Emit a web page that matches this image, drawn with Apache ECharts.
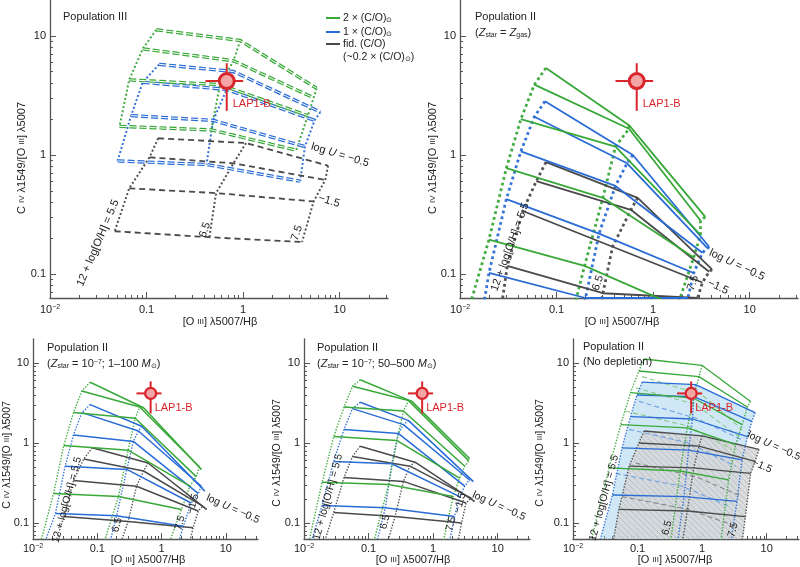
<!DOCTYPE html>
<html lang="en">
<head>
<meta charset="UTF-8">
<title>C IV / [O III] photoionisation grids</title>
<script src="https://cdn.jsdelivr.net/npm/echarts@6/dist/echarts.min.js"></script>
<style>
  html, body { margin: 0; padding: 0; background: #fff; }
  #main { width: 800px; height: 567px; }
</style>
</head>
<body>
<div id="main"></div>
<script>
// every value below is log10 of the line ratio
// x = [O III] 5007/Hb, y = C IV 1549/[O III] 5007
var xTicks = [-2, -1, 0, 1];
var yTicks = [-1, 0, 1];
var tickText = { '-2': '{n|10}{e|−2}', '-1': '0.1', '0': '1', '1': '10' };
var minorMult = [2, 3, 4, 5, 6, 7, 8, 9];
var decades = [-2, -1, 0, 1];

var lap1b = [-0.17, 0.62];
var lap1bXErr = [-0.39, 0.0];
var lap1bYErr = [0.37, 0.77];

// each row = one log U value, points at 12+log(O/H) = 5.5, 6.5, 7.5
// Population III
var p1Green = [
  [[-0.90, 1.05], [-0.03, 0.96], [0.76, 0.56]],
  [[-1.04, 0.89], [-0.10, 0.79], [0.73, 0.48]],
  [[-1.18, 0.63], [-0.24, 0.59], [0.67, 0.33]],
  [[-1.28, 0.24], [-0.33, 0.21], [0.55, 0.04]]
];
var p1Blue = [
  [[-0.87, 0.76], [-0.10, 0.70], [0.80, 0.36]],
  [[-1.04, 0.61], [-0.17, 0.55], [0.74, 0.29]],
  [[-1.16, 0.33], [-0.31, 0.29], [0.64, 0.07]],
  [[-1.30, -0.05], [-0.38, -0.08], [0.59, -0.22]]
];
var p1Black = [
  [[-0.88, 0.14], [0.03, 0.10], [0.88, -0.09]],
  [[-0.97, -0.02], [-0.10, -0.07], [0.85, -0.21]],
  [[-1.18, -0.28], [-0.28, -0.32], [0.73, -0.39]],
  [[-1.33, -0.64], [-0.35, -0.69], [0.61, -0.73]]
];

// Population II, Zstar = Zgas
var p2Green = [
  [[-1.11, 0.73], [-0.25, 0.25], [0.54, -0.52]],
  [[-1.23, 0.59], [-0.25, 0.22], [0.49, -0.55]],
  [[-1.37, 0.30], [-0.39, 0.07], [0.49, -0.67]],
  [[-1.52, -0.11], [-0.52, -0.36], [0.42, -0.86]],
  [[-1.70, -0.71], [-0.71, -0.93], [0.25, -1.27]],
  [[-1.94, -1.38], [-0.85, -1.38], [0.13, -1.46]]
];
var p2Blue = [
  [[-1.12, 0.45], [-0.21, 0.00], [0.58, -0.77]],
  [[-1.23, 0.32], [-0.27, -0.07], [0.56, -0.78]],
  [[-1.37, 0.03], [-0.39, -0.26], [0.51, -0.82]],
  [[-1.52, -0.37], [-0.56, -0.66], [0.42, -0.99]],
  [[-1.70, -0.99], [-0.70, -1.20], [0.36, -1.20]],
  [[-1.78, -1.38], [-0.75, -1.38], [0.30, -1.38]]
];
var p2Black = [
  [[-1.11, -0.06], [-0.16, -0.36], [0.61, -0.96]],
  [[-1.21, -0.22], [-0.23, -0.46], [0.58, -0.98]],
  [[-1.35, -0.47], [-0.42, -0.77], [0.51, -1.07]],
  [[-1.51, -0.93], [-0.52, -1.16], [0.46, -1.20]],
  [[-1.59, -1.38], [-0.59, -1.38], [0.42, -1.38]]
];

// Population II, Zstar = 1e-7, 1-100 Msun
var p3Green = [
  [[-1.11, 0.76], [-0.28, 0.44], [0.62, -0.33]],
  [[-1.24, 0.65], [-0.34, 0.45], [0.59, -0.30]],
  [[-1.37, 0.38], [-0.41, 0.31], [0.54, -0.42]],
  [[-1.52, -0.03], [-0.52, -0.09], [0.44, -0.54]],
  [[-1.68, -0.63], [-0.67, -0.67], [0.31, -0.83]],
  [[-1.91, -1.33], [-0.93, -1.33], [0.08, -1.33]]
];
var p3Blue = [
  [[-1.11, 0.48], [-0.31, 0.21], [0.67, -0.60]],
  [[-1.24, 0.38], [-0.36, 0.15], [0.62, -0.54]],
  [[-1.37, 0.10], [-0.44, 0.02], [0.57, -0.63]],
  [[-1.50, -0.29], [-0.54, -0.33], [0.46, -0.75]],
  [[-1.65, -0.88], [-0.70, -0.91], [0.34, -1.04]],
  [[-1.86, -1.33], [-0.83, -1.33], [0.23, -1.33]]
];
var p3Black = [
  [[-1.08, -0.06], [-0.21, -0.25], [0.70, -0.83]],
  [[-1.21, -0.20], [-0.28, -0.35], [0.64, -0.79]],
  [[-1.37, -0.47], [-0.39, -0.54], [0.57, -0.85]],
  [[-1.52, -0.92], [-0.52, -0.98], [0.49, -1.06]],
  [[-1.68, -1.33], [-0.67, -1.33], [0.41, -1.33]]
];

// Population II, Zstar = 1e-7, 50-500 Msun
var p4Green = [
  [[-1.13, 0.79], [-0.33, 0.52], [0.56, -0.19]],
  [[-1.25, 0.71], [-0.38, 0.53], [0.55, -0.22]],
  [[-1.38, 0.45], [-0.46, 0.40], [0.49, -0.29]],
  [[-1.54, 0.08], [-0.56, 0.03], [0.41, -0.44]],
  [[-1.72, -0.49], [-0.69, -0.52], [0.31, -0.67]],
  [[-1.95, -1.33], [-0.95, -1.33], [0.13, -1.33]]
];
var p4Blue = [
  [[-1.13, 0.51], [-0.38, 0.28], [0.62, -0.48]],
  [[-1.25, 0.43], [-0.46, 0.23], [0.56, -0.46]],
  [[-1.38, 0.17], [-0.54, 0.12], [0.49, -0.54]],
  [[-1.54, -0.23], [-0.64, -0.26], [0.41, -0.67]],
  [[-1.72, -0.78], [-0.74, -0.81], [0.33, -0.92]],
  [[-1.92, -1.33], [-0.90, -1.33], [0.23, -1.33]]
];
var p4Black = [
  [[-1.13, -0.04], [-0.28, -0.24], [0.64, -0.73]],
  [[-1.25, -0.17], [-0.36, -0.29], [0.59, -0.69]],
  [[-1.38, -0.43], [-0.46, -0.48], [0.51, -0.75]],
  [[-1.54, -0.87], [-0.59, -0.92], [0.44, -1.00]],
  [[-1.72, -1.33], [-0.74, -1.33], [0.36, -1.33]]
];

// Population II, no depletion
var p5Green = [
  [[-0.90, 1.05], [0.00, 0.97], [0.75, 0.52]],
  [[-0.98, 0.90], [-0.05, 0.83], [0.70, 0.45]],
  [[-1.11, 0.63], [-0.13, 0.56], [0.62, 0.23]],
  [[-1.26, 0.23], [-0.23, 0.19], [0.52, -0.02]],
  [[-1.44, -0.31], [-0.34, -0.35], [0.41, -0.46]],
  [[-1.78, -1.42], [-0.52, -1.42], [0.26, -1.42]]
];
var p5Blue = [
  [[-0.93, 0.76], [-0.10, 0.73], [0.82, 0.38]],
  [[-1.01, 0.60], [-0.13, 0.58], [0.77, 0.27]],
  [[-1.11, 0.33], [-0.15, 0.30], [0.70, 0.08]],
  [[-1.24, -0.06], [-0.21, -0.09], [0.62, -0.21]],
  [[-1.39, -0.65], [-0.28, -0.67], [0.54, -0.73]],
  [[-1.65, -1.42], [-0.41, -1.42], [0.41, -1.42]]
];
var p5Black = [
  [[-0.90, 0.15], [0.00, 0.09], [0.88, -0.08]],
  [[-0.98, 0.00], [-0.05, -0.04], [0.82, -0.23]],
  [[-1.13, -0.29], [-0.13, -0.31], [0.75, -0.38]],
  [[-1.29, -0.83], [-0.23, -0.85], [0.67, -0.92]],
  [[-1.42, -1.42], [-0.34, -1.42], [0.59, -1.42]]
];
// lighter dashed tracks in the no-depletion panel
var p5GreenDash = [
  [[-0.93, 0.83], [0.00, 0.60], [0.62, 0.17]],
  [[-1.03, 0.69], [-0.10, 0.48], [0.57, 0.08]],
  [[-1.19, 0.40], [-0.21, 0.21], [0.46, -0.08]]
];
var p5BlueDash = [
  [[-0.98, 0.52], [-0.10, 0.31], [0.62, 0.04]],
  [[-1.13, 0.17], [-0.21, 0.00], [0.52, -0.29]],
  [[-1.34, -0.38], [-0.31, -0.54], [0.41, -0.79]]
];
var p5BlackDash = [
  [[-1.03, -0.25], [-0.10, -0.42], [0.62, -0.67]],
  [[-1.24, -0.67], [-0.21, -0.83], [0.52, -1.04]]
];

var GREEN = '#38a838', BLUE = '#2a6cd6', BLACK = '#4a4a4a', RED = '#d8262c';
var FONT = '"Liberation Sans", Arial, Helvetica, sans-serif';
var AXIS = '#555';

var panels = [
  { grid: { left: 50, top: 0, width: 338, height: 298 }, big: true, style: 'popIII',
    sets: [[p1Black, BLACK], [p1Blue, BLUE], [p1Green, GREEN]] },
  { grid: { left: 460, top: 0, width: 338, height: 298 }, big: true, style: 'thick',
    sets: [[p2Black, BLACK], [p2Blue, BLUE], [p2Green, GREEN]] },
  { grid: { left: 33, top: 339, width: 225, height: 200 }, style: 'thin',
    sets: [[p3Black, BLACK], [p3Blue, BLUE], [p3Green, GREEN]] },
  { grid: { left: 304, top: 339, width: 226, height: 200 }, style: 'thin',
    sets: [[p4Black, BLACK], [p4Blue, BLUE], [p4Green, GREEN]] },
  { grid: { left: 573, top: 339, width: 226, height: 200 }, style: 'fill',
    sets: [[p5Black, BLACK], [p5Blue, BLUE], [p5Green, GREEN]],
    dashed: [[p5BlackDash, '#8a8a8a'], [p5BlueDash, '#6fa0e6'], [p5GreenDash, '#86c886']] }
];

function minorList(lo, hi) {
  var out = [];
  decades.forEach(function (d) {
    minorMult.forEach(function (m) {
      var v = d + Math.log10(m);
      if (v > lo && v < hi) out.push(v);
    });
  });
  return out;
}
var xMinor = minorList(-2, 1.5);
var yMinor = minorList(-1.2, 1.3);

// hatch pattern for the grey (fiducial C/O) region
var hatch = document.createElement('canvas');
hatch.width = 6; hatch.height = 6;
(function () {
  var c = hatch.getContext('2d');
  c.fillStyle = 'rgba(212, 214, 215, 0.85)';
  c.fillRect(0, 0, 6, 6);
  c.strokeStyle = 'rgba(140, 140, 140, 0.4)';
  c.lineWidth = 0.8;
  c.beginPath();
  c.moveTo(0, 0); c.lineTo(6, 6);
  c.moveTo(-3, 3); c.lineTo(3, 9);
  c.moveTo(3, -3); c.lineTo(9, 3);
  c.stroke();
})();

var labelRich = {
  n: { fontSize: 11, color: '#222', fontFamily: FONT },
  e: { fontSize: 7, color: '#222', verticalAlign: 'top', fontFamily: FONT, padding: [0, 0, 5, 0] }
};

var grids = [], xAxes = [], yAxes = [], series = [];

function line(ax, data, ls, z) {
  return { type: 'line', xAxisIndex: ax, yAxisIndex: ax, data: data, symbol: 'none',
    silent: true, animation: false, z: z || 2, lineStyle: ls };
}

function polygonOf(rows) {
  var top = rows[0];
  var right = rows.map(function (r) { return r[2]; });
  var bottom = rows[rows.length - 1].slice().reverse();
  var left = rows.map(function (r) { return r[0]; }).reverse();
  return top.concat(right.slice(1), bottom.slice(1), left.slice(1));
}

panels.forEach(function (p, g) {
  grids.push(p.grid);
  xAxes.push({
    type: 'value', gridIndex: g, min: -2, max: 1.5, position: 'bottom',
    axisLine: { show: true, onZero: false, lineStyle: { color: AXIS, width: 1.3 } },
    axisTick: { show: true, inside: true, length: 6, customValues: xTicks, lineStyle: { color: AXIS } },
    axisLabel: { customValues: xTicks, margin: p.big ? 6 : 4, fontSize: 11, color: '#222',
      formatter: function (v) { return tickText[String(v)]; }, rich: labelRich },
    splitLine: { show: false }
  });
  xAxes.push({
    type: 'value', gridIndex: g, min: -2, max: 1.5, position: 'bottom',
    axisLine: { show: false, onZero: false }, axisLabel: { show: false }, splitLine: { show: false },
    axisTick: { show: true, inside: true, length: 3, customValues: xMinor, lineStyle: { color: AXIS } }
  });
  yAxes.push({
    type: 'value', gridIndex: g, min: -1.2, max: 1.3, position: 'left',
    axisLine: { show: true, onZero: false, lineStyle: { color: AXIS, width: 1.3 } },
    axisTick: { show: true, inside: true, length: 6, customValues: yTicks, lineStyle: { color: AXIS } },
    axisLabel: { customValues: yTicks, margin: 4, fontSize: 11, color: '#222',
      formatter: function (v) { return tickText[String(v)]; } },
    splitLine: { show: false }
  });
  yAxes.push({
    type: 'value', gridIndex: g, min: -1.2, max: 1.3, position: 'left',
    axisLine: { show: false, onZero: false }, axisLabel: { show: false }, splitLine: { show: false },
    axisTick: { show: true, inside: true, length: 3, customValues: yMinor, lineStyle: { color: AXIS } }
  });

  var ax = 2 * g;

  if (p.style === 'fill') {
    [[p5Blue, 'rgba(150, 205, 236, 0.45)'], [p5Black, { image: hatch, repeat: 'repeat' }]].forEach(function (f) {
      var poly = polygonOf(f[0]);
      series.push({
        type: 'custom', xAxisIndex: ax, yAxisIndex: ax, clip: true, silent: true, animation: false, z: 1,
        data: [[0, 0]],
        renderItem: function (params, api) {
          return { type: 'polygon', shape: { points: poly.map(function (pt) { return api.coord(pt); }) },
            style: { fill: f[1] } };
        }
      });
    });
  }

  (p.dashed || []).forEach(function (set) {
    set[0].forEach(function (r) {
      series.push(line(ax, r, { color: set[1], width: 1.1, type: [5, 3] }, 2));
    });
  });

  p.sets.forEach(function (set) {
    var rows = set[0], color = set[1];
    // constant-metallicity dotted tracks
    [0, 1, 2].forEach(function (j) {
      var col = rows.map(function (r) { return r[j]; });
      var w = p.style === 'popIII' ? 2 : p.style === 'thick' ? 2.8 : 1.4;
      series.push(line(ax, col, { color: color, width: w, type: [w, w * 1.1], opacity: 0.95 }, 2));
    });
    // constant log U tracks
    rows.forEach(function (r) {
      if (p.style === 'popIII') {
        if (color === BLACK) {
          series.push(line(ax, r, { color: color, width: 1.8, type: [6, 4] }, 3));
        } else {
          series.push(line(ax, r, { color: color, width: 3.4, type: [7, 3] }, 3));
          series.push(line(ax, r, { color: '#fff', width: 1.0, type: [7, 3] }, 4));
        }
      } else if (p.style === 'thick') {
        series.push(line(ax, r, { color: color, width: 1.8 }, 3));
      } else if (p.style === 'thin') {
        series.push(line(ax, r, { color: color, width: 1.5 }, 3));
      } else {
        series.push(line(ax, r, { color: color, width: 1.3 }, 3));
      }
    });
  });

  // LAP1-B with error bars
  series.push(line(ax, [[lap1bXErr[0], lap1b[1]], [lap1bXErr[1], lap1b[1]]], { color: RED, width: 2 }, 8));
  series.push(line(ax, [[lap1b[0], lap1bYErr[0]], [lap1b[0], lap1bYErr[1]]], { color: RED, width: 2 }, 8));
  series.push({
    type: 'scatter', xAxisIndex: ax, yAxisIndex: ax, data: [lap1b], silent: true, animation: false, z: 9,
    symbolSize: p.big ? 15 : 11,
    itemStyle: { color: '#f4a6a6', borderColor: RED, borderWidth: p.big ? 3 : 2.3, opacity: 1 },
    label: { show: true, formatter: 'LAP1-B', position: 'inside', align: 'left', verticalAlign: 'middle',
      offset: p.big ? [6, 23] : [4, 15], color: RED, fontSize: 11, fontFamily: FONT }
  });
});

function richFor(size, color) {
  return {
    s: { fontSize: Math.round(size * 0.75), fill: color, fontFamily: FONT },
    i: { fontSize: size, fontStyle: 'italic', fill: color, fontFamily: FONT },
    sub: { fontSize: Math.round(size * 0.65), verticalAlign: 'bottom', fill: color, fontFamily: FONT },
    sup: { fontSize: Math.round(size * 0.65), verticalAlign: 'top', fill: color, fontFamily: FONT }
  };
}

function txt(x, y, text, o) {
  o = o || {};
  var size = o.size || 11, color = o.color || '#222';
  return {
    type: 'text', x: x, y: y, rotation: (o.rot || 0) * Math.PI / 180, silent: true, z: 100,
    style: { text: text, fontSize: size, fontFamily: FONT, fill: color,
      align: o.align || 'center', verticalAlign: 'middle', rich: richFor(size, color) }
  };
}

var yTitle = 'C {s|IV} λ1549/[O {s|III}] λ5007';
var xTitle = '[O {s|III}] λ5007/Hβ';
var OH = '12 + log[O/H] = 5.5';
var LU = 'log {i|U} = −0.5';

var graphics = [
  // panel 1
  txt(63, 17, 'Population III', { align: 'left' }),
  txt(22, 158, yTitle, { rot: 90 }),
  txt(220, 322, xTitle),
  txt(98, 243, OH, { rot: 67 }),
  txt(205, 230, '6.5', { rot: 70 }),
  txt(297, 233, '7.5', { rot: 70 }),
  txt(340, 155, LU, { rot: -17 }),
  txt(329, 201, '−1.5', { rot: -17 }),
  { type: 'line', silent: true, shape: { x1: 326, y1: 18, x2: 340, y2: 18 }, style: { stroke: GREEN, lineWidth: 2 } },
  { type: 'line', silent: true, shape: { x1: 326, y1: 32, x2: 340, y2: 32 }, style: { stroke: BLUE, lineWidth: 2 } },
  { type: 'line', silent: true, shape: { x1: 326, y1: 44, x2: 340, y2: 44 }, style: { stroke: BLACK, lineWidth: 2 } },
  txt(343, 18, '2 × (C/O){sub|⊙}', { align: 'left', size: 10.5 }),
  txt(343, 32, '1 × (C/O){sub|⊙}', { align: 'left', size: 10.5 }),
  txt(343, 44, 'fid. (C/O)', { align: 'left', size: 10.5 }),
  txt(343, 57, '(~0.2 × (C/O){sub|⊙})', { align: 'left', size: 10.5 }),
  // panel 2
  txt(475, 17, 'Population II', { align: 'left' }),
  txt(475, 33, '({i|Z}{sub|star} = {i|Z}{sub|gas})', { align: 'left' }),
  txt(433, 158, yTitle, { rot: 90 }),
  txt(622, 322, xTitle),
  txt(510, 247, OH, { rot: 70 }),
  txt(598, 283, '6.5', { rot: 70 }),
  txt(693, 283, '7.5', { rot: 70 }),
  txt(737, 265, LU, { rot: -25 }),
  txt(718, 287, '−1.5', { rot: -25 }),
  // panel 3
  txt(47, 348, 'Population II', { align: 'left' }),
  txt(47, 364, '({i|Z}{sub|star} = 10{sup|−7}; 1–100 {i|M}{sub|⊙})', { align: 'left' }),
  txt(7, 455, yTitle, { rot: 90, size: 10.5 }),
  txt(148, 560, xTitle),
  txt(67, 500, OH, { rot: 75, size: 10.5 }),
  txt(117, 525, '6.5', { rot: 75, size: 10.5 }),
  txt(180, 523, '7.5', { rot: 75, size: 10.5 }),
  txt(193, 504, '−1.5', { rot: 75, size: 10.5 }),
  txt(233, 509, LU, { rot: -24, size: 10.5 }),
  // panel 4
  txt(317, 348, 'Population II', { align: 'left' }),
  txt(317, 364, '({i|Z}{sub|star} = 10{sup|−7}; 50–500 {i|M}{sub|⊙})', { align: 'left' }),
  txt(277, 453, yTitle, { rot: 90, size: 10.5 }),
  txt(413, 560, xTitle),
  txt(328, 497, OH, { rot: 75, size: 10.5 }),
  txt(385, 522, '6.5', { rot: 75, size: 10.5 }),
  txt(451, 524, '7.5', { rot: 75, size: 10.5 }),
  txt(460, 503, '−1.5', { rot: 75, size: 10.5 }),
  txt(499, 506, LU, { rot: -24, size: 10.5 }),
  // panel 5
  txt(583, 347, 'Population II', { align: 'left' }),
  txt(583, 362, '(No depletion)', { align: 'left' }),
  txt(540, 453, yTitle, { rot: 90, size: 10.5 }),
  txt(675, 560, xTitle),
  txt(604, 498, OH, { rot: 75, size: 10.5 }),
  txt(667, 528, '6.5', { rot: 75, size: 10.5 }),
  txt(733, 530, '7.5', { rot: 75, size: 10.5 }),
  txt(774, 446, LU, { rot: -24, size: 10.5 }),
  txt(762, 466, '−1.5', { rot: -24, size: 10.5 })
];

var chart = echarts.init(document.getElementById('main'));
chart.setOption({
  animation: false,
  backgroundColor: '#fff',
  textStyle: { fontFamily: FONT },
  grid: grids,
  xAxis: xAxes,
  yAxis: yAxes,
  series: series,
  graphic: { elements: graphics }
});
</script>
</body>
</html>
